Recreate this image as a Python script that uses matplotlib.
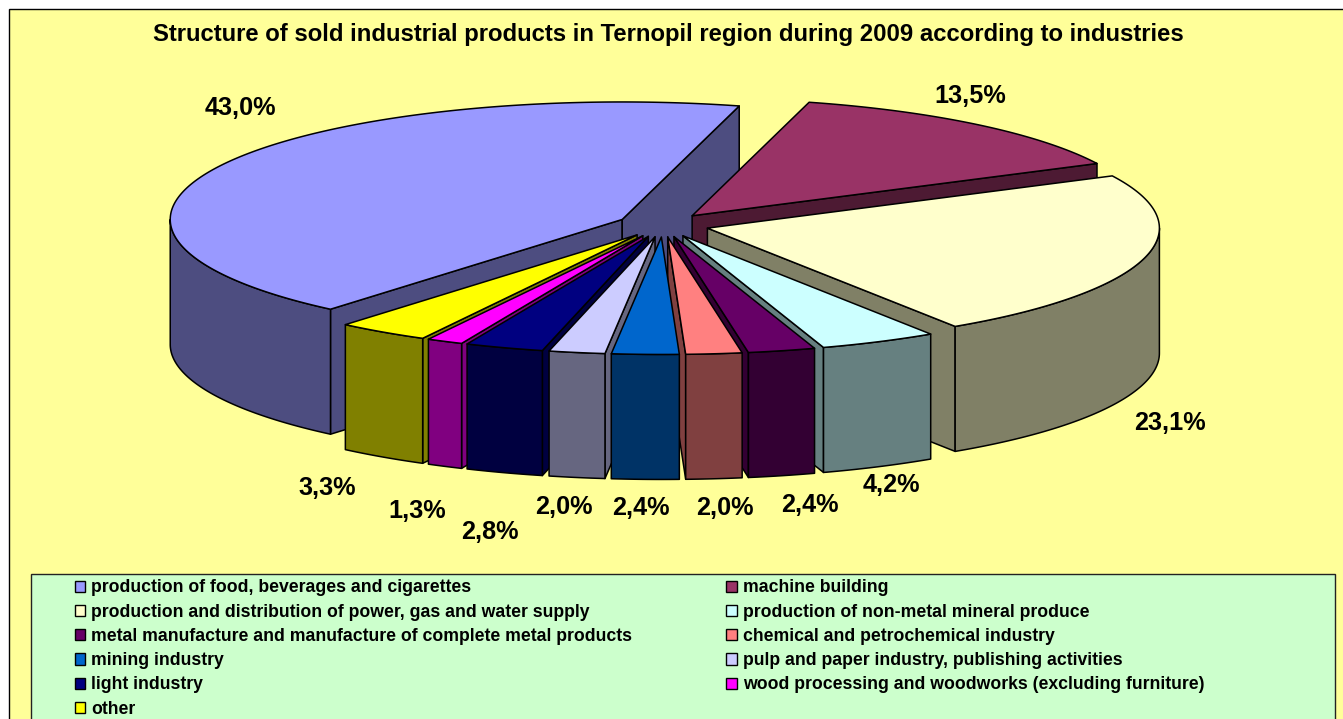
import numpy as np
import matplotlib.pyplot as plt
from matplotlib.patches import Polygon, Rectangle, Patch

plt.rcParams['font.family'] = ['Liberation Sans', 'DejaVu Sans']

title = 'Structure of sold industrial products in Ternopil region during 2009 according to industries'
categories = [
    'production of food, beverages and cigarettes',
    'machine building',
    'production and distribution of power, gas and water supply',
    'production of non-metal mineral produce',
    'metal manufacture and manufacture of complete metal products',
    'chemical and petrochemical industry',
    'mining industry',
    'pulp and paper industry, publishing activities',
    'light industry',
    'wood processing and woodworks (excluding furniture)',
    'other',
]
shares = [43.0, 13.5, 23.1, 4.2, 2.4, 2.0, 2.4, 2.0, 2.8, 1.3, 3.3]
top_colors = ['#9999FF', '#993366', '#FFFFCC', '#CCFFFF', '#660066', '#FF8080',
              '#0066CC', '#CCCCFF', '#000080', '#FF00FF', '#FFFF00']
side_colors = ['#4D4D80', '#4D1A33', '#808066', '#668080', '#330033', '#804040',
               '#003366', '#666680', '#000040', '#800080', '#808000']
label_xy = [(240, 108), (970, 96), (1170, 423), (891, 485), (810, 505), (725, 508),
            (641, 508), (564, 507), (490, 532), (417, 511), (327, 488)]

# pie geometry, in pixels
cx, cy = 663, 225
rx, ry = 452, 117.5
explode = 46
depth = 125
first_angle = 229.8
# food behind everything, the thin ones from the sides towards the front
draw_order = [0, 1, 2, 3, 10, 4, 9, 5, 8, 7, 6]


def arc(ax0, ay0, a0, a1, dy=0):
    t = np.radians(np.linspace(a0, a1, max(int(abs(a1 - a0)) * 2, 2)))
    return np.column_stack([ax0 + rx * np.cos(t), ay0 - ry * np.sin(t) + dy])


def draw_slice(ax, share, start, top, side):
    end = start - share * 3.6
    mid = np.radians((start + end) / 2)
    ax0 = cx + explode * np.cos(mid)
    ay0 = cy - explode * ry / rx * np.sin(mid)
    style = dict(edgecolor='black', linewidth=1.1, joinstyle='round')

    # cut faces, only those turned to the viewer
    for a, normal in ((start, start + 90), (end, end - 90)):
        if np.sin(np.radians(normal)) < 0:
            p = arc(ax0, ay0, a, a, 0)[0]
            ax.add_patch(Polygon([(ax0, ay0), p, (p[0], p[1] + depth), (ax0, ay0 + depth)],
                                 facecolor=side, **style))

    # outer wall, only the front half of the ellipse
    w0, w1 = start, end
    if start > 180 and end < 180:
        w1 = max(end, 180)
    if w0 > 0 and w1 < 0:
        w0 = 0
    if w0 > w1 and np.sin(np.radians((w0 + w1) / 2)) < 0 or (w0 > 180 and w1 >= 180):
        upper = arc(ax0, ay0, w0, w1)
        lower = arc(ax0, ay0, w1, w0, depth)
        ax.add_patch(Polygon(np.vstack([upper, lower]), facecolor=side, **style))

    top_pts = np.vstack([[(ax0, ay0)], arc(ax0, ay0, start, end)])
    ax.add_patch(Polygon(top_pts, facecolor=top, **style))


def plot_pie():
    fig = plt.figure(figsize=(13.43, 7.19), dpi=100, facecolor='white')
    ax = fig.add_axes([0, 0, 1, 1])
    ax.set_xlim(0, 1343)
    ax.set_ylim(719, 0)
    ax.axis('off')

    ax.add_patch(Rectangle((8.5, 8.5), 1340, 720, facecolor='#FFFF99', edgecolor='black', linewidth=1.0))
    ax.add_patch(Rectangle((31, 573.5), 1303.5, 160, facecolor='#CCFFCC', edgecolor='#222222', linewidth=1.0))

    starts = first_angle - np.cumsum([0] + shares[:-1]) * 3.6
    for i in draw_order:
        draw_slice(ax, shares[i], starts[i], top_colors[i], side_colors[i])

    ax.text(668.5, 34, title, fontsize=17.2, fontweight='bold', ha='center', va='center')
    for v, (x, y) in zip(shares, label_xy):
        ax.text(x, y, f'{v:.1f}%'.replace('.', ','), fontsize=18.2, fontweight='bold', ha='center', va='center')

    # legend fills by column, the chart reads by row
    order = list(range(0, len(categories), 2)) + list(range(1, len(categories), 2))
    handles = [Patch(facecolor=top_colors[i], edgecolor='black', linewidth=1.0, label=categories[i]) for i in order]
    ax.legend(handles=handles, ncol=2, loc='upper left', bbox_to_anchor=(74.5, 579.5), bbox_transform=ax.transData,
              frameon=False, borderpad=0, borderaxespad=0,
              prop=dict(weight='bold', size=12.72), handlelength=0.62, handleheight=0.62,
              handletextpad=0.34, columnspacing=5.3, labelspacing=0.41)

    fig.savefig('out.png', dpi=100, facecolor='white')


if __name__ == "__main__":
    plot_pie()
